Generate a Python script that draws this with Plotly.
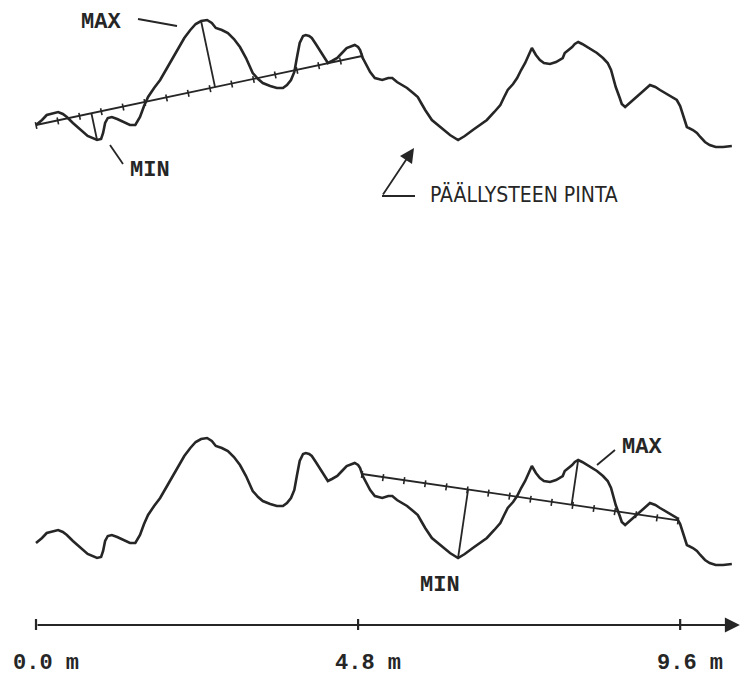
import numpy as np
import plotly.graph_objects as go

# ---------------- data ----------------
# road surface profile: station along the road (m) and surface height (display units)
distance_m = [
    0.00, 0.09, 0.16, 0.25, 0.33, 0.40, 0.46, 0.55, 0.66, 0.77,
    0.91, 0.97, 1.00, 1.03, 1.07, 1.13, 1.21, 1.30, 1.40, 1.48,
    1.52, 1.55, 1.61, 1.67, 1.76, 1.85, 1.97, 2.10, 2.21, 2.30,
    2.38, 2.46, 2.55, 2.62, 2.68, 2.77, 2.86, 2.95, 3.04, 3.13,
    3.23, 3.31, 3.38, 3.49, 3.59, 3.68, 3.74, 3.80, 3.85, 3.89,
    3.93, 3.98, 4.02, 4.07, 4.11, 4.17, 4.23, 4.29, 4.35, 4.41,
    4.49, 4.56, 4.63, 4.71, 4.75, 4.80, 4.83, 4.87, 4.92, 4.98,
    5.05, 5.16, 5.25, 5.31, 5.38, 5.45, 5.53, 5.62, 5.69, 5.74,
    5.80, 5.90, 6.07, 6.17, 6.29, 6.39, 6.51, 6.62, 6.72, 6.83,
    6.92, 6.97, 7.03, 7.11, 7.17, 7.23, 7.29, 7.35, 7.39, 7.45,
    7.51, 7.57, 7.66, 7.75, 7.81, 7.85, 7.88, 7.94, 7.99, 8.03,
    8.08, 8.14, 8.21, 8.29, 8.36, 8.45, 8.52, 8.57, 8.60, 8.64,
    8.70, 8.73, 8.78, 8.85, 8.96, 9.05, 9.15, 9.23, 9.30, 9.42,
    9.55, 9.60, 9.63, 9.67, 9.70, 9.79, 9.85, 9.90, 9.97, 10.04,
    10.13, 10.24, 10.37,
]
surface_height = [
    25, 30, 35, 37, 38, 36, 33, 27, 20, 14,
    10, 11, 17, 27, 32, 33, 31, 28, 25, 25,
    29, 33, 44, 53, 62, 70, 84, 100, 112, 120,
    126, 129, 130, 127, 122, 120, 117, 111, 103, 92,
    77, 71, 67, 64, 62, 62, 65, 70, 78, 93,
    107, 114, 115, 114, 112, 106, 100, 93, 87, 89,
    92, 97, 102, 104, 105, 103, 100, 92, 86, 78,
    72, 70, 72, 72, 68, 65, 62, 57, 53, 47,
    40, 30, 20, 15, 10, 14, 20, 25, 30, 38,
    45, 52, 60, 66, 72, 80, 87, 96, 102, 95,
    90, 87, 86, 88, 90, 92, 97, 100, 103, 106,
    108, 106, 103, 100, 97, 92, 87, 80, 73, 63,
    52, 46, 43, 47, 53, 59, 65, 63, 60, 55,
    50, 44, 37, 28, 23, 20, 17, 13, 8, 5,
    3, 3, 4,
]
lower_offset = 418                 # the lower drawing repeats the profile further down
chord_upper_m = [0.00, 4.86]       # reference chord of the upper drawing
chord_lower_m = [4.86, 9.57]       # reference chord of the lower drawing
chord_divisions = 15
axis_ticks_m = [0.0, 4.8, 9.6]
axis_tick_labels = ["0.0 m", "4.8 m", "9.6 m"]

# ---------------- layout / style constants ----------------
W, H = 741, 678
PX_PER_M = 67.1
X0_PX = 36
TOP_H = 150
INK = "#262626"
MONO = "Liberation Mono, Courier New, monospace"
NARROW = "Liberation Sans Narrow, DejaVu Sans Condensed, Arial Narrow, sans-serif"

x = np.array(distance_m, float)
h = np.array(surface_height, float)
assert len(x) == len(h)

fig = go.Figure()


def line(xs, ys, width=2.0):
    fig.add_trace(go.Scatter(x=xs, y=ys, mode="lines",
                             line=dict(color=INK, width=width),
                             hoverinfo="skip", showlegend=False))


# profiles
line(x, h, 2.6)
line(x, h - lower_offset, 2.6)


def chord_group(c0, c1, shift):
    h0, h1 = np.interp([c0, c1], x, h)
    A = np.array([c0 * PX_PER_M, h0])
    B = np.array([c1 * PX_PER_M, h1])
    u = (B - A) / np.linalg.norm(B - A)
    n_down = np.array([u[1], -u[0]])
    # chord
    line([c0, c1], [h0 - shift, h1 - shift], 1.8)
    # ticks
    tx, ty = [], []
    for k in range(chord_divisions + 1):
        P = A + (B - A) * k / chord_divisions
        p1 = P - 3 * n_down
        p2 = P + 4 * n_down
        tx += [p1[0] / PX_PER_M, p2[0] / PX_PER_M, None]
        ty += [p1[1] - shift, p2[1] - shift, None]
    line(tx, ty, 1.6)
    # max / min deviations measured perpendicular to the chord
    m = (x >= c0) & (x <= c1)
    xs, hs = x[m], h[m]
    d = hs - np.interp(xs, [c0, c1], [h0, h1])
    for i in (np.argmax(d), np.argmin(d)):
        P = np.array([xs[i] * PX_PER_M, hs[i]])
        F = A + np.dot(P - A, u) * u
        line([P[0] / PX_PER_M, F[0] / PX_PER_M],
             [P[1] - shift, F[1] - shift], 1.8)


chord_group(chord_upper_m[0], chord_upper_m[1], 0)
chord_group(chord_lower_m[0], chord_lower_m[1], lower_offset)

# distance axis
axis_y = TOP_H - 625
tkx, tky = [], []
for t in axis_ticks_m:
    tkx += [t, t, None]
    tky += [axis_y - 5, axis_y + 6, None]
line(tkx, tky, 2.2)

annotations = [
    dict(x=10.49, y=axis_y, ax=axis_ticks_m[0], ay=axis_y, axref="x", ayref="y",
         xref="x", yref="y", text="", showarrow=True, arrowhead=2,
         arrowsize=1.5, arrowwidth=2, arrowcolor=INK, standoff=0),
]
for t, lab in zip(axis_ticks_m, axis_tick_labels):
    annotations.append(dict(x=t, y=TOP_H - 663, xref="x", yref="y",
                            text="<b>%s</b>" % lab,
                            showarrow=False, xanchor="left", yanchor="middle",
                            xshift=-25, font=dict(family=MONO, size=22, color=INK)))


def px_to_data(px, py):
    return (px - X0_PX) / PX_PER_M, TOP_H - py


def label(px, py, text, font=MONO, size=22, anchor="center"):
    xx, yy = px_to_data(px, py)
    annotations.append(dict(x=xx, y=yy, xref="x", yref="y", text=text,
                            showarrow=False, xanchor=anchor, yanchor="middle",
                            font=dict(family=font, size=size, color=INK)))


label(101, 22, "<b>MAX</b>")
label(150, 170, "<b>MIN</b>")
label(440, 585, "<b>MIN</b>")
label(642, 447, "<b>MAX</b>")
label(428, 194, "PÄÄLLYSTEEN PINTA", font=NARROW, size=21, anchor="left")

# leader lines
for (a, b) in [((138, 19), (177, 26)), ((110, 145), (123, 164)),
               ((597, 465), (615, 450)), ((382, 196), (415, 196))]:
    xa, ya = px_to_data(*a)
    xb, yb = px_to_data(*b)
    line([xa, xb], [ya, yb], 1.8)

# arrow pointing at the surface
hx, hy = px_to_data(414, 148)
tx0, ty0 = px_to_data(382, 196)
annotations.append(dict(x=hx, y=hy, ax=tx0, ay=ty0, axref="x", ayref="y",
                        xref="x", yref="y", text="", showarrow=True,
                        arrowhead=2, arrowsize=1.6, arrowwidth=1.8,
                        arrowcolor=INK, standoff=0))

fig.update_layout(
    width=W, height=H, autosize=False,
    margin=dict(l=0, r=0, t=0, b=0),
    paper_bgcolor="white", plot_bgcolor="white",
    showlegend=False,
    xaxis=dict(range=[-X0_PX / PX_PER_M, (W - X0_PX) / PX_PER_M], visible=False,
               fixedrange=True),
    yaxis=dict(range=[TOP_H - H, TOP_H], visible=False, fixedrange=True),
    annotations=annotations,
)

fig.write_html("out.html")
